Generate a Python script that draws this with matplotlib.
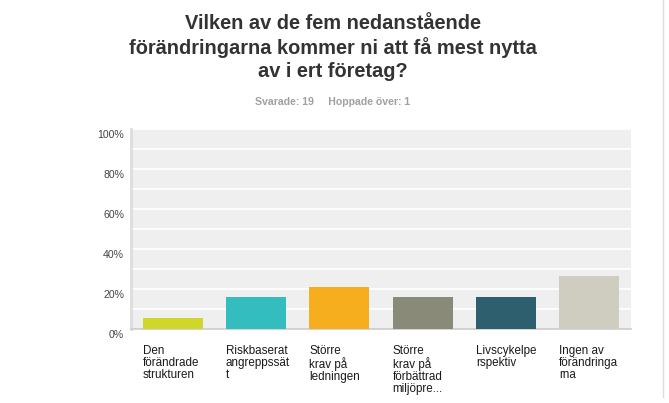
import matplotlib.pyplot as plt
from matplotlib.lines import Line2D
from matplotlib.transforms import ScaledTranslation

plt.rcParams['font.family'] = ['Liberation Sans', 'DejaVu Sans']

# data
categories = ["Den\nförändrade\nstrukturen",
              "Riskbaserat\nangreppssät\nt",
              "Större\nkrav på\nledningen",
              "Större\nkrav på\nförbättrad\nmiljöpre...",
              "Livscykelpe\nrspektiv",
              "Ingen av\nförändringa\nrna"]
values = [5.26, 15.79, 21.05, 15.79, 15.79, 26.32]
colors = ["#D0D72A", "#33BDBF", "#F6AE1F", "#8A8A78", "#2D5F6E", "#CFCDBF"]
yticks = [0, 20, 40, 60, 80, 100]
ytick_labels = ["0%", "20%", "40%", "60%", "80%", "100%"]

fig = plt.figure(figsize=(6.69, 4.03), dpi=100)
ax = fig.add_axes([131 / 669, 74 / 403, 500 / 669, 200 / 403])
ax.set_facecolor("#EFEFEF")

x = list(range(len(values)))
bw = 0.72
ax.bar(x, values, width=bw, color=colors, zorder=3)

# white grid every 10%
for g in range(10, 101, 10):
    ax.axhline(g, color="white", lw=1.2, zorder=2)

ax.set_xlim(-0.5, len(values) - 0.5)
ax.set_ylim(0, 100)
ax.set_yticks(yticks)
ax.set_yticklabels(ytick_labels, fontsize=7.6, color="#444444")
ax.tick_params(axis="y", length=0, pad=5)
ax.tick_params(axis="x", length=0)
ax.set_xticks([])
# tick labels sit a few px below their gridline
shift = ScaledTranslation(0, -4.5 / 100, fig.dpi_scale_trans)
for t in ax.get_yticklabels():
    t.set_transform(t.get_transform() + shift)
for s in ["top", "right"]:
    ax.spines[s].set_visible(False)
ax.spines["left"].set_color("#DDDDDD")
ax.spines["left"].set_linewidth(2)
ax.spines["bottom"].set_color("#CCCCCC")
ax.spines["bottom"].set_linewidth(1.2)

# category labels, left aligned to bar edge
for i, lab in enumerate(categories):
    ax.text(i - bw / 2, -8, lab, ha="left", va="top", fontsize=8.4,
            color="#1a1a1a", linespacing=1.0)

fig.text(333 / 669, 1 - 14 / 403,
         "Vilken av de fem nedanstående\nförändringarna kommer ni att få mest nytta\nav i ert företag?",
         ha="center", va="top", fontsize=14.4, fontweight="bold",
         color="#333333", linespacing=1.25)
fig.text(333 / 669, 1 - 102 / 403, "Svarade: 19     Hoppade över: 1",
         ha="center", va="center", fontsize=7.6, fontweight="bold", color="#A0A0A0")

fig.add_artist(Line2D([663 / 669, 663 / 669], [6 / 403, 1], color="#DDDDDD", lw=1))

fig.savefig("out.png", dpi=100)
